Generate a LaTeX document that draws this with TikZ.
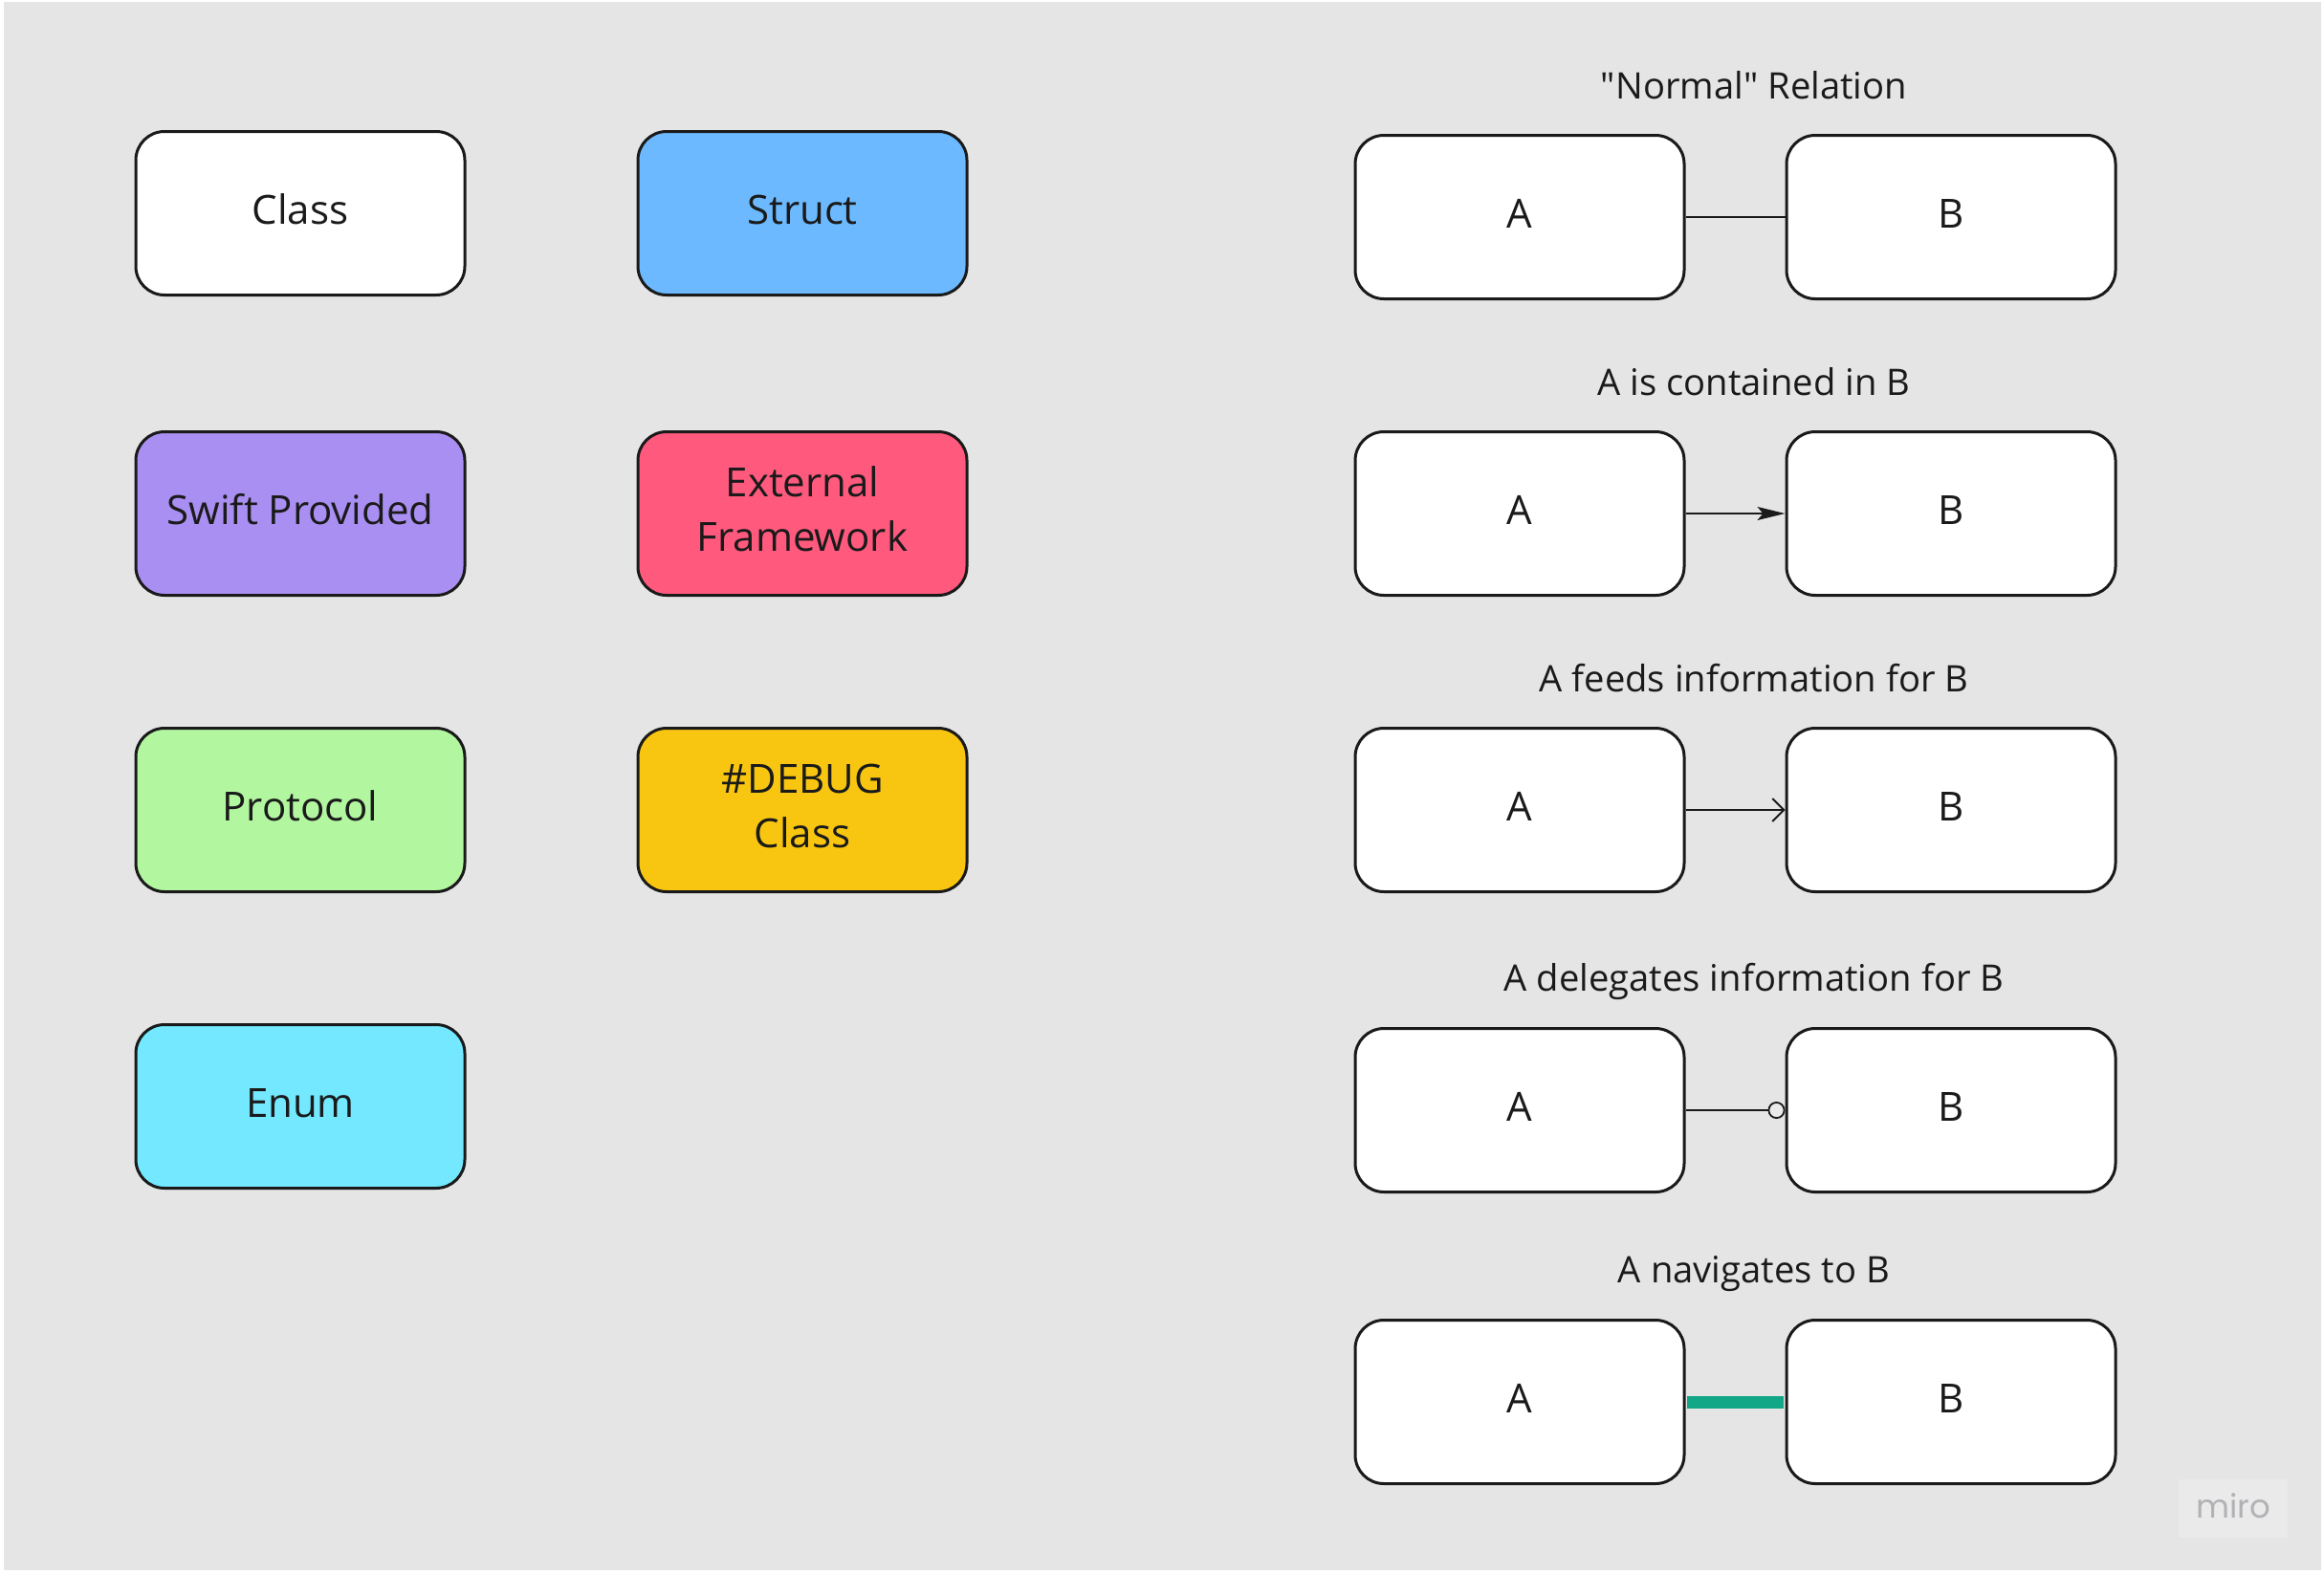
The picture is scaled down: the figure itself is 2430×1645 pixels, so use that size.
\documentclass[tikz,border=0pt]{standalone}
\usepackage{fontspec}
\setmainfont{Open Sans}
\newfontfamily\qfont{Open Sans}[Ligatures=ResetAll]
\newfontfamily\logofont{Poppins}
\usetikzlibrary{arrows.meta}
\definecolor{bg}{RGB}{229,229,229}
\definecolor{ink}{RGB}{26,26,26}
\definecolor{cstruct}{RGB}{108,185,255}
\definecolor{cswift}{RGB}{170,143,242}
\definecolor{cext}{RGB}{255,90,125}
\definecolor{cproto}{RGB}{178,247,160}
\definecolor{cdebug}{RGB}{248,198,16}
\definecolor{cenum}{RGB}{115,232,255}
\definecolor{cnav}{RGB}{18,167,135}
\definecolor{logobg}{RGB}{234,234,234}
\definecolor{logotext}{RGB}{178,178,182}
\newcommand\bxt[1]{\begin{tabular}{@{}c@{}}#1\end{tabular}}
\begin{document}
\begin{tikzpicture}[x=0.5pt,y=-0.5pt,
  box/.style={draw=ink, line width=1.5pt, rounded corners=15pt,
    minimum width=172pt, minimum height=85.5pt, inner sep=0pt,
    align=center, font=\fontsize{21}{28.5}\selectfont, text=ink},
  rel/.style={anchor=base, font=\fontsize{19.1}{24}\selectfont, text=ink},
  conn/.style={draw=ink, line width=0.9pt}]
\useasboundingbox (0,0) rectangle (2430,1645);
\fill[white] (0,0) rectangle (2430,1645);
\fill[bg] (4,2) rectangle (2427,1642);
% legend of kinds
\node[box, fill=white]   (class)  at (314,223)  {\bxt{Class}};
\node[box, fill=cstruct] (struct) at (839,223)  {\bxt{Struct}};
\node[box, fill=cswift]  (swift)  at (314,537)  {\bxt{Swift Provided}};
\node[box, fill=cext]    (ext)    at (839,537)  {\bxt{External\\Framework}};
\node[box, fill=cproto]  (proto)  at (314,847)  {\bxt{Protocol}};
\node[box, fill=cdebug]  (debug)  at (839,847)  {\bxt{\#DEBUG\\Class}};
\node[box, fill=cenum]   (enum)   at (314,1157) {\bxt{Enum}};
% relations
\node[box, fill=white] (A1) at (1589,227)  {\bxt{A}};
\node[box, fill=white] (B1) at (2040,227)  {\bxt{B}};
\node[box, fill=white] (A2) at (1589,537)  {\bxt{A}};
\node[box, fill=white] (B2) at (2040,537)  {\bxt{B}};
\node[box, fill=white] (A3) at (1589,847)  {\bxt{A}};
\node[box, fill=white] (B3) at (2040,847)  {\bxt{B}};
\node[box, fill=white] (A4) at (1589,1161) {\bxt{A}};
\node[box, fill=white] (B4) at (2040,1161) {\bxt{B}};
\node[box, fill=white] (A5) at (1589,1466) {\bxt{A}};
\node[box, fill=white] (B5) at (2040,1466) {\bxt{B}};
\node[rel] (L1) at (1834,103)  {{\qfont "Normal" Relation}};
\node[rel] (L2) at (1834,413)  {A is contained in B};
\node[rel] (L3) at (1834,723)  {A feeds information for B};
\node[rel] (L4) at (1834,1036) {A delegates information for B};
\node[rel] (L5) at (1834,1341) {A navigates to B};
\draw[conn] (A1) -- (B1);
\draw[conn, -{Stealth[length=14.5pt, width=7pt, inset=3pt]}] (A2) -- (B2);
\draw[conn, -{Straight Barb[length=6pt, width=12pt]}] (A3) -- (B3);
\draw[conn, -{Circle[open, length=9pt, width=9pt, fill=logobg]}] (A4) -- (B4);
\draw[draw=cnav, line width=6.5pt, shorten <=0.75pt, shorten >=0.75pt] (A5) -- (B5);
% watermark
\node[fill=logobg, minimum width=57pt, minimum height=30.5pt, inner sep=0pt] (logo) at (2335,1577) {};
\node[anchor=base, text=logotext, font=\logofont\fontsize{17}{20}\selectfont] (logotxt) at (2335,1587) {miro};
\end{tikzpicture}
\end{document}
